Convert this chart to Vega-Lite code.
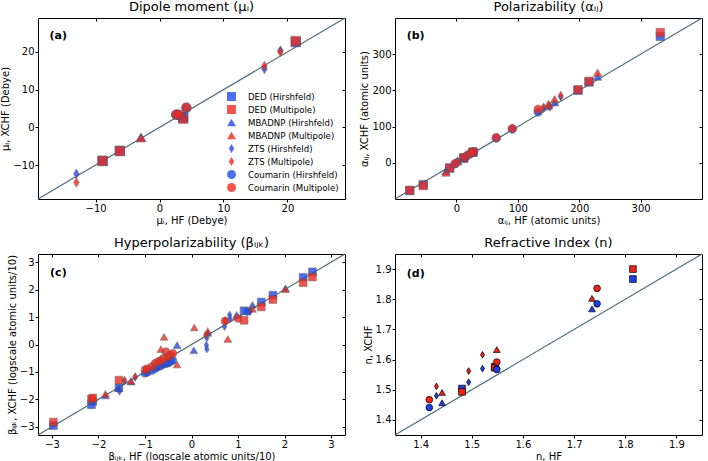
{
 "$schema": "https://vega.github.io/schema/vega-lite/v6.json",
 "background": "white",
 "padding": {"left": 0, "top": 0, "right": 4, "bottom": 0},
 "columns": 2,
 "spacing": {"row": 55, "column": 50},
 "bounds": "flush",
 "datasets": {
  "a": [
   {"s": "DED (Hirshfeld)", "x": -8.9, "y": -8.9},
   {"s": "DED (Hirshfeld)", "x": -6.2, "y": -6.2},
   {"s": "DED (Hirshfeld)", "x": 21.3, "y": 22.6},
   {"s": "DED (Hirshfeld)", "x": 3.7, "y": 2.6},
   {"s": "DED (Multipole)", "x": -8.9, "y": -8.9},
   {"s": "DED (Multipole)", "x": -6.2, "y": -6.3},
   {"s": "DED (Multipole)", "x": 21.3, "y": 22.9},
   {"s": "DED (Multipole)", "x": 3.7, "y": 2.3},
   {"s": "MBADNP (Hirshfeld)", "x": -2.9, "y": -2.6},
   {"s": "MBADNP (Hirshfeld)", "x": 3.7, "y": 3.1},
   {"s": "MBADNP (Multipole)", "x": -2.9, "y": -2.8},
   {"s": "MBADNP (Multipole)", "x": 3.7, "y": 2.8},
   {"s": "ZTS (Hirshfeld)", "x": -13.0, "y": -12.3},
   {"s": "ZTS (Hirshfeld)", "x": 16.4, "y": 15.5},
   {"s": "ZTS (Hirshfeld)", "x": 18.9, "y": 20.4},
   {"s": "ZTS (Multipole)", "x": -13.0, "y": -14.6},
   {"s": "ZTS (Multipole)", "x": 16.4, "y": 16.3},
   {"s": "ZTS (Multipole)", "x": 18.9, "y": 20.0},
   {"s": "Coumarin (Hirshfeld)", "x": 2.6, "y": 3.3},
   {"s": "Coumarin (Hirshfeld)", "x": 3.0, "y": 3.3},
   {"s": "Coumarin (Hirshfeld)", "x": 4.2, "y": 5.1},
   {"s": "Coumarin (Multipole)", "x": 2.6, "y": 3.4},
   {"s": "Coumarin (Multipole)", "x": 3.0, "y": 3.4},
   {"s": "Coumarin (Multipole)", "x": 4.2, "y": 5.3}
  ],
  "b": [
   {"s": "DED (Hirshfeld)", "x": -76, "y": -77},
   {"s": "DED (Hirshfeld)", "x": -54, "y": -60},
   {"s": "DED (Hirshfeld)", "x": -11, "y": -14},
   {"s": "DED (Hirshfeld)", "x": 12, "y": 13},
   {"s": "DED (Hirshfeld)", "x": 27, "y": 29},
   {"s": "DED (Hirshfeld)", "x": 198, "y": 200},
   {"s": "DED (Hirshfeld)", "x": 216, "y": 223},
   {"s": "DED (Hirshfeld)", "x": 332, "y": 349},
   {"s": "DED (Multipole)", "x": -76, "y": -76},
   {"s": "DED (Multipole)", "x": -54, "y": -63},
   {"s": "DED (Multipole)", "x": -11, "y": -15},
   {"s": "DED (Multipole)", "x": 12, "y": 14},
   {"s": "DED (Multipole)", "x": 27, "y": 30},
   {"s": "DED (Multipole)", "x": 198, "y": 202},
   {"s": "DED (Multipole)", "x": 216, "y": 225},
   {"s": "DED (Multipole)", "x": 332, "y": 360},
   {"s": "MBADNP (Hirshfeld)", "x": -17, "y": -23},
   {"s": "MBADNP (Hirshfeld)", "x": 2, "y": 7},
   {"s": "MBADNP (Hirshfeld)", "x": 15, "y": 20},
   {"s": "MBADNP (Hirshfeld)", "x": 150, "y": 158},
   {"s": "MBADNP (Hirshfeld)", "x": 160, "y": 167},
   {"s": "MBADNP (Hirshfeld)", "x": 230, "y": 238},
   {"s": "MBADNP (Multipole)", "x": -17, "y": -27},
   {"s": "MBADNP (Multipole)", "x": 2, "y": 4},
   {"s": "MBADNP (Multipole)", "x": 15, "y": 23},
   {"s": "MBADNP (Multipole)", "x": 150, "y": 163},
   {"s": "MBADNP (Multipole)", "x": 160, "y": 176},
   {"s": "MBADNP (Multipole)", "x": 230, "y": 249},
   {"s": "ZTS (Hirshfeld)", "x": -1, "y": -1},
   {"s": "ZTS (Hirshfeld)", "x": 12, "y": 14},
   {"s": "ZTS (Hirshfeld)", "x": 142, "y": 150},
   {"s": "ZTS (Hirshfeld)", "x": 152, "y": 154},
   {"s": "ZTS (Hirshfeld)", "x": 170, "y": 182},
   {"s": "ZTS (Multipole)", "x": -1, "y": 0},
   {"s": "ZTS (Multipole)", "x": 12, "y": 16},
   {"s": "ZTS (Multipole)", "x": 142, "y": 154},
   {"s": "ZTS (Multipole)", "x": 152, "y": 156},
   {"s": "ZTS (Multipole)", "x": 170, "y": 186},
   {"s": "Coumarin (Hirshfeld)", "x": -2, "y": -3},
   {"s": "Coumarin (Hirshfeld)", "x": 13, "y": 13},
   {"s": "Coumarin (Hirshfeld)", "x": 22, "y": 24},
   {"s": "Coumarin (Hirshfeld)", "x": 28, "y": 30},
   {"s": "Coumarin (Hirshfeld)", "x": 65, "y": 68},
   {"s": "Coumarin (Hirshfeld)", "x": 91, "y": 93},
   {"s": "Coumarin (Hirshfeld)", "x": 133, "y": 140},
   {"s": "Coumarin (Multipole)", "x": -2, "y": -2},
   {"s": "Coumarin (Multipole)", "x": 13, "y": 15},
   {"s": "Coumarin (Multipole)", "x": 22, "y": 25},
   {"s": "Coumarin (Multipole)", "x": 28, "y": 31},
   {"s": "Coumarin (Multipole)", "x": 65, "y": 70},
   {"s": "Coumarin (Multipole)", "x": 91, "y": 95},
   {"s": "Coumarin (Multipole)", "x": 133, "y": 148}
  ],
  "c": [
   {"s": "DED (Hirshfeld)", "x": -2.97, "y": -2.96},
   {"s": "DED (Hirshfeld)", "x": -2.15, "y": -2.2},
   {"s": "DED (Hirshfeld)", "x": -2.12, "y": -2.08},
   {"s": "DED (Hirshfeld)", "x": -1.56, "y": -1.58},
   {"s": "DED (Hirshfeld)", "x": 1.13, "y": 1.23},
   {"s": "DED (Hirshfeld)", "x": 1.5, "y": 1.55},
   {"s": "DED (Hirshfeld)", "x": 1.75, "y": 1.8},
   {"s": "DED (Hirshfeld)", "x": 2.4, "y": 2.45},
   {"s": "DED (Hirshfeld)", "x": 2.6, "y": 2.65},
   {"s": "DED (Multipole)", "x": -2.97, "y": -2.83},
   {"s": "DED (Multipole)", "x": -2.15, "y": -1.98},
   {"s": "DED (Multipole)", "x": -2.12, "y": -1.95},
   {"s": "DED (Multipole)", "x": -1.56, "y": -1.3},
   {"s": "DED (Multipole)", "x": 1.13, "y": 0.88},
   {"s": "DED (Multipole)", "x": 1.5, "y": 1.37},
   {"s": "DED (Multipole)", "x": 1.75, "y": 1.64},
   {"s": "DED (Multipole)", "x": 2.4, "y": 2.25},
   {"s": "DED (Multipole)", "x": 2.6, "y": 2.46},
   {"s": "MBADNP (Hirshfeld)", "x": -1.85, "y": -1.86},
   {"s": "MBADNP (Hirshfeld)", "x": -1.57, "y": -1.59},
   {"s": "MBADNP (Hirshfeld)", "x": -1.3, "y": -1.35},
   {"s": "MBADNP (Hirshfeld)", "x": -0.31, "y": -0.02},
   {"s": "MBADNP (Hirshfeld)", "x": 0.05, "y": -0.21},
   {"s": "MBADNP (Hirshfeld)", "x": 0.35, "y": 0.42},
   {"s": "MBADNP (Hirshfeld)", "x": 0.97, "y": 1.08},
   {"s": "MBADNP (Hirshfeld)", "x": 1.31, "y": 1.45},
   {"s": "MBADNP (Hirshfeld)", "x": 2.02, "y": 2.05},
   {"s": "MBADNP (Multipole)", "x": -1.85, "y": -1.8},
   {"s": "MBADNP (Multipole)", "x": -1.3, "y": -1.33},
   {"s": "MBADNP (Multipole)", "x": -0.66, "y": -0.17},
   {"s": "MBADNP (Multipole)", "x": -0.59, "y": 0.28},
   {"s": "MBADNP (Multipole)", "x": -0.31, "y": -0.73},
   {"s": "MBADNP (Multipole)", "x": 0.06, "y": 0.62},
   {"s": "MBADNP (Multipole)", "x": 0.35, "y": 0.49},
   {"s": "MBADNP (Multipole)", "x": 0.78, "y": 0.2},
   {"s": "MBADNP (Multipole)", "x": 1.31, "y": 1.3},
   {"s": "MBADNP (Multipole)", "x": 2.02, "y": 2.02},
   {"s": "ZTS (Hirshfeld)", "x": -1.55, "y": -1.71},
   {"s": "ZTS (Hirshfeld)", "x": -1.44, "y": -1.33},
   {"s": "ZTS (Hirshfeld)", "x": -1.21, "y": -1.2},
   {"s": "ZTS (Hirshfeld)", "x": 0.32, "y": -0.02},
   {"s": "ZTS (Hirshfeld)", "x": 0.33, "y": -0.17},
   {"s": "ZTS (Hirshfeld)", "x": 0.33, "y": 0.24},
   {"s": "ZTS (Hirshfeld)", "x": 0.71, "y": 0.65},
   {"s": "ZTS (Hirshfeld)", "x": 0.73, "y": 0.83},
   {"s": "ZTS (Hirshfeld)", "x": 0.82, "y": 1.08},
   {"s": "ZTS (Hirshfeld)", "x": 0.83, "y": 0.93},
   {"s": "ZTS (Hirshfeld)", "x": 1.26, "y": 1.2},
   {"s": "ZTS (Multipole)", "x": -1.44, "y": -1.3},
   {"s": "ZTS (Multipole)", "x": -1.21, "y": -1.17},
   {"s": "ZTS (Multipole)", "x": 0.31, "y": 0.35},
   {"s": "ZTS (Multipole)", "x": 0.73, "y": 0.88},
   {"s": "ZTS (Multipole)", "x": 1.26, "y": 1.22},
   {"s": "Coumarin (Hirshfeld)", "x": -1.0, "y": -1.05},
   {"s": "Coumarin (Hirshfeld)", "x": -0.95, "y": -1.02},
   {"s": "Coumarin (Hirshfeld)", "x": -0.85, "y": -0.95},
   {"s": "Coumarin (Hirshfeld)", "x": -0.78, "y": -0.88},
   {"s": "Coumarin (Hirshfeld)", "x": -0.72, "y": -0.82},
   {"s": "Coumarin (Hirshfeld)", "x": -0.66, "y": -0.78},
   {"s": "Coumarin (Hirshfeld)", "x": -0.6, "y": -0.72},
   {"s": "Coumarin (Hirshfeld)", "x": -0.55, "y": -0.7},
   {"s": "Coumarin (Hirshfeld)", "x": -0.5, "y": -0.68},
   {"s": "Coumarin (Hirshfeld)", "x": -0.45, "y": -0.62},
   {"s": "Coumarin (Hirshfeld)", "x": -0.4, "y": -0.58},
   {"s": "Coumarin (Hirshfeld)", "x": 1.2, "y": 1.2},
   {"s": "Coumarin (Multipole)", "x": -1.0, "y": -0.92},
   {"s": "Coumarin (Multipole)", "x": -0.95, "y": -0.88},
   {"s": "Coumarin (Multipole)", "x": -0.85, "y": -0.8},
   {"s": "Coumarin (Multipole)", "x": -0.78, "y": -0.68},
   {"s": "Coumarin (Multipole)", "x": -0.72, "y": -0.62},
   {"s": "Coumarin (Multipole)", "x": -0.66, "y": -0.58},
   {"s": "Coumarin (Multipole)", "x": -0.6, "y": -0.5},
   {"s": "Coumarin (Multipole)", "x": -0.55, "y": -0.26},
   {"s": "Coumarin (Multipole)", "x": -0.5, "y": -0.45},
   {"s": "Coumarin (Multipole)", "x": -0.45, "y": -0.38},
   {"s": "Coumarin (Multipole)", "x": -0.4, "y": -0.32},
   {"s": "Coumarin (Multipole)", "x": 0.72, "y": 0.86},
   {"s": "Coumarin (Multipole)", "x": 1.0, "y": 0.95}
  ],
  "d": [
   {"s": "DED (Hirshfeld)", "x": 1.481, "y": 1.504},
   {"s": "DED (Hirshfeld)", "x": 1.545, "y": 1.576},
   {"s": "DED (Hirshfeld)", "x": 1.815, "y": 1.867},
   {"s": "DED (Multipole)", "x": 1.481, "y": 1.493},
   {"s": "DED (Multipole)", "x": 1.545, "y": 1.573},
   {"s": "DED (Multipole)", "x": 1.815, "y": 1.9},
   {"s": "MBADNP (Hirshfeld)", "x": 1.442, "y": 1.457},
   {"s": "MBADNP (Hirshfeld)", "x": 1.549, "y": 1.58},
   {"s": "MBADNP (Hirshfeld)", "x": 1.735, "y": 1.768},
   {"s": "MBADNP (Multipole)", "x": 1.442, "y": 1.491},
   {"s": "MBADNP (Multipole)", "x": 1.549, "y": 1.633},
   {"s": "MBADNP (Multipole)", "x": 1.735, "y": 1.803},
   {"s": "ZTS (Hirshfeld)", "x": 1.431, "y": 1.48},
   {"s": "ZTS (Hirshfeld)", "x": 1.494, "y": 1.525},
   {"s": "ZTS (Hirshfeld)", "x": 1.521, "y": 1.57},
   {"s": "ZTS (Multipole)", "x": 1.431, "y": 1.511},
   {"s": "ZTS (Multipole)", "x": 1.494, "y": 1.562},
   {"s": "ZTS (Multipole)", "x": 1.521, "y": 1.616},
   {"s": "Coumarin (Hirshfeld)", "x": 1.417, "y": 1.441},
   {"s": "Coumarin (Hirshfeld)", "x": 1.549, "y": 1.567},
   {"s": "Coumarin (Hirshfeld)", "x": 1.745, "y": 1.785},
   {"s": "Coumarin (Multipole)", "x": 1.417, "y": 1.467},
   {"s": "Coumarin (Multipole)", "x": 1.549, "y": 1.592},
   {"s": "Coumarin (Multipole)", "x": 1.745, "y": 1.836}
  ]
 },
 "concat": [
  {
   "width": 307, "height": 181,
   "title": "Dipole moment (μᵢ)",
   "layer": [
    {
     "data": {"values": [{}]},
     "mark": {"type": "rule", "color": "#4f6d7a", "strokeWidth": 1.2},
     "encoding": {
      "x": {"datum": -19, "type": "quantitative", "scale": {"domain": [-19, 29], "nice": false, "zero": false}, "axis": {"orient": "bottom", "values": [-10, 0, 10, 20], "title": "μᵢ, HF (Debye)", "labelOverlap": false}},
      "y": {"datum": -19, "type": "quantitative", "scale": {"domain": [-19, 29], "nice": false, "zero": false}, "axis": {"orient": "left", "values": [-10, 0, 10, 20], "title": "μᵢ, XCHF (Debye)", "labelOverlap": false}},
      "x2": {"datum": 29},
      "y2": {"datum": 29}
     }
    },
    {
     "data": {"name": "a"},
     "mark": {"type": "point", "filled": true, "size": 90, "opacity": 0.8, "stroke": "#555555", "strokeWidth": 0.6},
     "encoding": {
      "x": {"field": "x", "type": "quantitative", "axis": null},
      "y": {"field": "y", "type": "quantitative", "axis": null},
      "color": {"field": "s", "type": "nominal", "sort": null,
       "scale": {"domain": ["DED (Hirshfeld)", "DED (Multipole)", "MBADNP (Hirshfeld)", "MBADNP (Multipole)", "ZTS (Hirshfeld)", "ZTS (Multipole)", "Coumarin (Hirshfeld)", "Coumarin (Multipole)"], "range": ["#2448e6", "#ee2a20", "#2448e6", "#ee2a20", "#2448e6", "#ee2a20", "#2448e6", "#ee2a20"]},
       "legend": {"orient": "bottom-right", "title": null, "offset": 6, "padding": 0, "labelFontSize": 8.6, "symbolSize": 80, "rowPadding": 3, "labelOffset": 12, "symbolStrokeWidth": 0}},
      "shape": {"field": "s", "type": "nominal", "sort": null,
       "scale": {"domain": ["DED (Hirshfeld)", "DED (Multipole)", "MBADNP (Hirshfeld)", "MBADNP (Multipole)", "ZTS (Hirshfeld)", "ZTS (Multipole)", "Coumarin (Hirshfeld)", "Coumarin (Multipole)"], "range": ["square", "square", "triangle-up", "triangle-up", "M0,-1L0.6,0L0,1L-0.6,0Z", "M0,-1L0.6,0L0,1L-0.6,0Z", "circle", "circle"]},
       "legend": {"orient": "bottom-right", "title": null, "offset": 6, "padding": 0, "labelFontSize": 8.6, "symbolSize": 80, "rowPadding": 3, "labelOffset": 12, "symbolStrokeWidth": 0}}
     }
    },
    {
     "data": {"values": [{"t": "(a)"}]},
     "mark": {"type": "text", "fontWeight": "bold", "fontSize": 11, "align": "left", "baseline": "middle"},
     "encoding": {"text": {"field": "t"}, "x": {"datum": -17.2, "axis": null}, "y": {"datum": 24.2, "axis": null}}
    },
    {
     "data": {"values": [{}]},
     "mark": {"type": "point", "opacity": 0},
     "encoding": {
      "x": {"datum": 0, "type": "quantitative", "axis": {"orient": "top", "values": [-10, 0, 10, 20], "labels": false, "title": null, "tickSize": -3}},
      "y": {"datum": 0, "type": "quantitative", "axis": {"orient": "right", "values": [-10, 0, 10, 20], "labels": false, "title": null, "tickSize": -3}}
     }
    }
   ],
   "resolve": {"axis": {"x": "independent", "y": "independent"}}
  },
  {
   "width": 307, "height": 181,
   "title": "Polarizability (αᵢⱼ)",
   "layer": [
    {
     "data": {"values": [{}]},
     "mark": {"type": "rule", "color": "#4f6d7a", "strokeWidth": 1.2},
     "encoding": {
      "x": {"datum": -100, "type": "quantitative", "scale": {"domain": [-100, 400], "nice": false, "zero": false}, "axis": {"orient": "bottom", "values": [0, 100, 200, 300], "title": "αᵢⱼ, HF (atomic units)", "labelOverlap": false}},
      "y": {"datum": -100, "type": "quantitative", "scale": {"domain": [-100, 400], "nice": false, "zero": false}, "axis": {"orient": "left", "values": [0, 100, 200, 300], "title": "αᵢⱼ, XCHF (atomic units)", "labelOverlap": false}},
      "x2": {"datum": 400},
      "y2": {"datum": 400}
     }
    },
    {
     "data": {"name": "b"},
     "mark": {"type": "point", "filled": true, "size": 70, "opacity": 0.8, "stroke": "#555555", "strokeWidth": 0.6},
     "encoding": {
      "x": {"field": "x", "type": "quantitative", "axis": null},
      "y": {"field": "y", "type": "quantitative", "axis": null},
      "color": {"field": "s", "type": "nominal", "legend": null,
       "scale": {"domain": ["DED (Hirshfeld)", "DED (Multipole)", "MBADNP (Hirshfeld)", "MBADNP (Multipole)", "ZTS (Hirshfeld)", "ZTS (Multipole)", "Coumarin (Hirshfeld)", "Coumarin (Multipole)"], "range": ["#2448e6", "#ee2a20", "#2448e6", "#ee2a20", "#2448e6", "#ee2a20", "#2448e6", "#ee2a20"]}},
      "shape": {"field": "s", "type": "nominal", "legend": null,
       "scale": {"domain": ["DED (Hirshfeld)", "DED (Multipole)", "MBADNP (Hirshfeld)", "MBADNP (Multipole)", "ZTS (Hirshfeld)", "ZTS (Multipole)", "Coumarin (Hirshfeld)", "Coumarin (Multipole)"], "range": ["square", "square", "triangle-up", "triangle-up", "M0,-1L0.6,0L0,1L-0.6,0Z", "M0,-1L0.6,0L0,1L-0.6,0Z", "circle", "circle"]}}
     }
    },
    {
     "data": {"values": [{"t": "(b)"}]},
     "mark": {"type": "text", "fontWeight": "bold", "fontSize": 11, "align": "left", "baseline": "middle"},
     "encoding": {"text": {"field": "t"}, "x": {"datum": -81, "axis": null}, "y": {"datum": 349, "axis": null}}
    },
    {
     "data": {"values": [{}]},
     "mark": {"type": "point", "opacity": 0},
     "encoding": {
      "x": {"datum": 0, "type": "quantitative", "axis": {"orient": "top", "values": [0, 100, 200, 300], "labels": false, "title": null, "tickSize": -3}},
      "y": {"datum": 0, "type": "quantitative", "axis": {"orient": "right", "values": [0, 100, 200, 300], "labels": false, "title": null, "tickSize": -3}}
     }
    }
   ],
   "resolve": {"axis": {"x": "independent", "y": "independent"}}
  },
  {
   "width": 307, "height": 181,
   "title": "Hyperpolarizability (βᵢⱼₖ)",
   "layer": [
    {
     "data": {"values": [{}]},
     "mark": {"type": "rule", "color": "#4f6d7a", "strokeWidth": 1.2},
     "encoding": {
      "x": {"datum": -3.3, "type": "quantitative", "scale": {"domain": [-3.3, 3.3], "nice": false, "zero": false}, "axis": {"orient": "bottom", "values": [-3, -2, -1, 0, 1, 2, 3], "title": "βᵢⱼₖ, HF (logscale atomic units/10)", "labelOverlap": false}},
      "y": {"datum": -3.3, "type": "quantitative", "scale": {"domain": [-3.3, 3.3], "nice": false, "zero": false}, "axis": {"orient": "left", "values": [-3, -2, -1, 0, 1, 2, 3], "title": "βᵢⱼₖ, XCHF (logscale atomic units/10)", "labelOverlap": false}},
      "x2": {"datum": 3.3},
      "y2": {"datum": 3.3}
     }
    },
    {
     "data": {"name": "c"},
     "mark": {"type": "point", "filled": true, "size": 60, "opacity": 0.8, "stroke": "#555555", "strokeWidth": 0.6},
     "encoding": {
      "x": {"field": "x", "type": "quantitative", "axis": null},
      "y": {"field": "y", "type": "quantitative", "axis": null},
      "color": {"field": "s", "type": "nominal", "legend": null,
       "scale": {"domain": ["DED (Hirshfeld)", "DED (Multipole)", "MBADNP (Hirshfeld)", "MBADNP (Multipole)", "ZTS (Hirshfeld)", "ZTS (Multipole)", "Coumarin (Hirshfeld)", "Coumarin (Multipole)"], "range": ["#2448e6", "#ee2a20", "#2448e6", "#ee2a20", "#2448e6", "#ee2a20", "#2448e6", "#ee2a20"]}},
      "shape": {"field": "s", "type": "nominal", "legend": null,
       "scale": {"domain": ["DED (Hirshfeld)", "DED (Multipole)", "MBADNP (Hirshfeld)", "MBADNP (Multipole)", "ZTS (Hirshfeld)", "ZTS (Multipole)", "Coumarin (Hirshfeld)", "Coumarin (Multipole)"], "range": ["square", "square", "triangle-up", "triangle-up", "M0,-1L0.6,0L0,1L-0.6,0Z", "M0,-1L0.6,0L0,1L-0.6,0Z", "circle", "circle"]}}
     }
    },
    {
     "data": {"values": [{"t": "(c)"}]},
     "mark": {"type": "text", "fontWeight": "bold", "fontSize": 11, "align": "left", "baseline": "middle"},
     "encoding": {"text": {"field": "t"}, "x": {"datum": -3.04, "axis": null}, "y": {"datum": 2.6, "axis": null}}
    },
    {
     "data": {"values": [{}]},
     "mark": {"type": "point", "opacity": 0},
     "encoding": {
      "x": {"datum": 0, "type": "quantitative", "axis": {"orient": "top", "values": [-3, -2, -1, 0, 1, 2, 3], "labels": false, "title": null, "tickSize": -3}},
      "y": {"datum": 0, "type": "quantitative", "axis": {"orient": "right", "values": [-3, -2, -1, 0, 1, 2, 3], "labels": false, "title": null, "tickSize": -3}}
     }
    }
   ],
   "resolve": {"axis": {"x": "independent", "y": "independent"}}
  },
  {
   "width": 307, "height": 181,
   "title": "Refractive Index (n)",
   "layer": [
    {
     "data": {"values": [{}]},
     "mark": {"type": "rule", "color": "#4f6d7a", "strokeWidth": 1.2},
     "encoding": {
      "x": {"datum": 1.35, "type": "quantitative", "scale": {"domain": [1.35, 1.95], "nice": false, "zero": false}, "axis": {"orient": "bottom", "values": [1.4, 1.5, 1.6, 1.7, 1.8, 1.9], "format": ".1f", "title": "n, HF", "labelOverlap": false}},
      "y": {"datum": 1.35, "type": "quantitative", "scale": {"domain": [1.35, 1.95], "nice": false, "zero": false}, "axis": {"orient": "left", "values": [1.4, 1.5, 1.6, 1.7, 1.8, 1.9], "format": ".1f", "title": "n, XCHF", "labelOverlap": false}},
      "x2": {"datum": 1.95},
      "y2": {"datum": 1.95}
     }
    },
    {
     "data": {"name": "d"},
     "mark": {"type": "point", "filled": true, "size": 45, "opacity": 1, "stroke": "#000000", "strokeWidth": 0.7},
     "encoding": {
      "x": {"field": "x", "type": "quantitative", "axis": null},
      "y": {"field": "y", "type": "quantitative", "axis": null},
      "color": {"field": "s", "type": "nominal", "legend": null,
       "scale": {"domain": ["DED (Hirshfeld)", "DED (Multipole)", "MBADNP (Hirshfeld)", "MBADNP (Multipole)", "ZTS (Hirshfeld)", "ZTS (Multipole)", "Coumarin (Hirshfeld)", "Coumarin (Multipole)"], "range": ["#1f3fe6", "#ea2418", "#1f3fe6", "#ea2418", "#1f3fe6", "#ea2418", "#1f3fe6", "#ea2418"]}},
      "shape": {"field": "s", "type": "nominal", "legend": null,
       "scale": {"domain": ["DED (Hirshfeld)", "DED (Multipole)", "MBADNP (Hirshfeld)", "MBADNP (Multipole)", "ZTS (Hirshfeld)", "ZTS (Multipole)", "Coumarin (Hirshfeld)", "Coumarin (Multipole)"], "range": ["square", "square", "triangle-up", "triangle-up", "M0,-1L0.6,0L0,1L-0.6,0Z", "M0,-1L0.6,0L0,1L-0.6,0Z", "circle", "circle"]}}
     }
    },
    {
     "data": {"values": [{"t": "(d)"}]},
     "mark": {"type": "text", "fontWeight": "bold", "fontSize": 11, "align": "left", "baseline": "middle"},
     "encoding": {"text": {"field": "t"}, "x": {"datum": 1.373, "axis": null}, "y": {"datum": 1.883, "axis": null}}
    },
    {
     "data": {"values": [{}]},
     "mark": {"type": "point", "opacity": 0},
     "encoding": {
      "x": {"datum": 1.6, "type": "quantitative", "axis": {"orient": "top", "values": [1.4, 1.5, 1.6, 1.7, 1.8, 1.9], "labels": false, "title": null, "tickSize": -3}},
      "y": {"datum": 1.6, "type": "quantitative", "axis": {"orient": "right", "values": [1.4, 1.5, 1.6, 1.7, 1.8, 1.9], "labels": false, "title": null, "tickSize": -3}}
     }
    }
   ],
   "resolve": {"axis": {"x": "independent", "y": "independent"}}
  }
 ],
 "resolve": {
  "scale": {"color": "independent", "shape": "independent"},
  "legend": {"color": "independent", "shape": "independent"}
 },
 "config": {
  "font": "DejaVu Sans",
  "view": {"stroke": "black", "strokeWidth": 1},
  "axis": {"grid": false, "domain": false, "tickColor": "black", "tickSize": 3, "labelFontSize": 10, "labelColor": "black", "labelPadding": 1, "labelOverlap": false, "labelFlush": false, "titleFontSize": 10, "titleFontWeight": "normal", "titleColor": "black", "titlePadding": 2},
  "title": {"fontSize": 13, "fontWeight": "normal", "color": "black", "offset": 3},
  "legend": {"labelColor": "black"}
 }
}
